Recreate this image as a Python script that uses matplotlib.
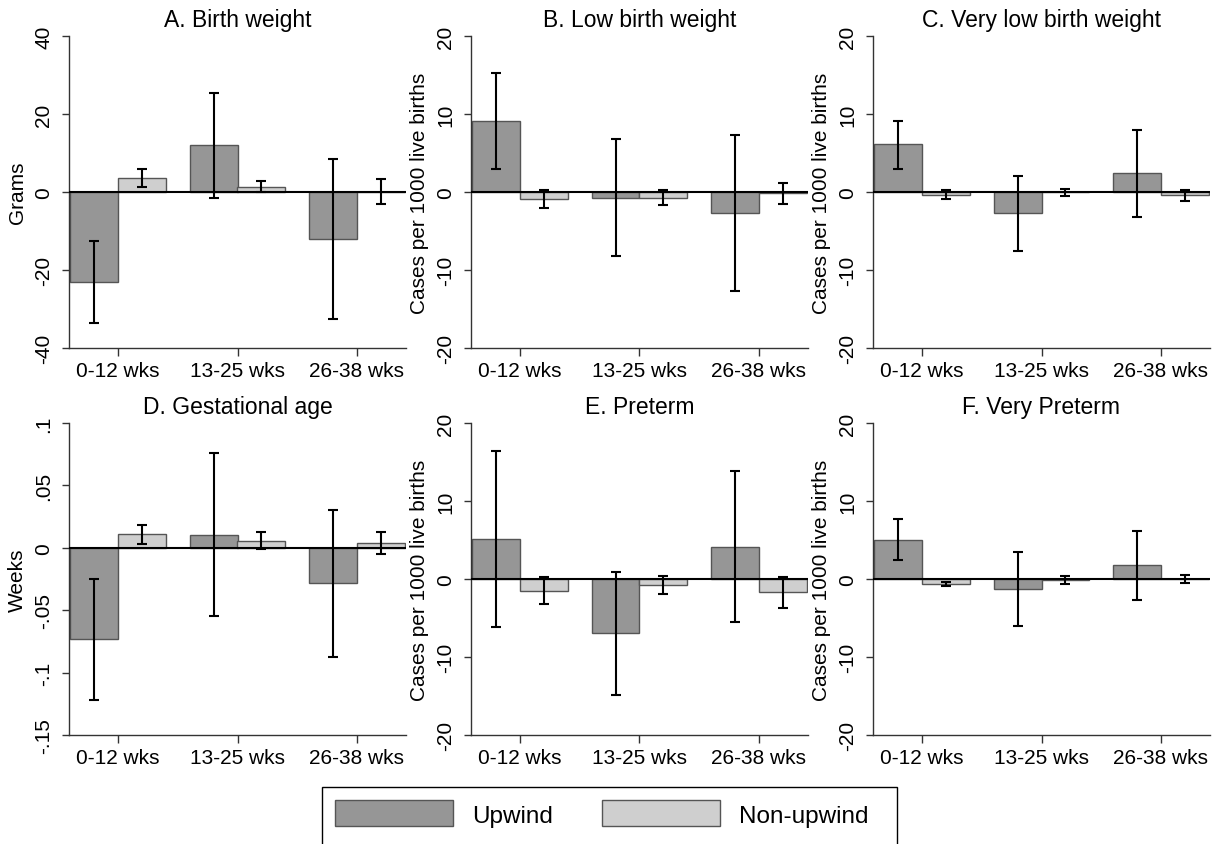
import numpy as np
import matplotlib
matplotlib.use("Agg")
import matplotlib.pyplot as plt
from matplotlib.patches import Patch, Rectangle

plt.rcParams["font.family"] = ["Liberation Sans", "DejaVu Sans"]

periods = ["0-12 wks", "13-25 wks", "26-38 wks"]
titles = ["A. Birth weight", "B. Low birth weight", "C. Very low birth weight",
          "D. Gestational age", "E. Preterm", "F. Very Preterm"]
ylabels = ["Grams", "Cases per 1000 live births", "Cases per 1000 live births",
           "Weeks", "Cases per 1000 live births", "Cases per 1000 live births"]

# point estimates and 95% CI bounds, one row per panel (A-F)
upwind_est = [[-23.2, 12.0, -12.0],
              [9.06, -0.73, -2.66],
              [6.1, -2.7, 2.4],
              [-0.0731, 0.0105, -0.0281],
              [5.19, -6.95, 4.12],
              [5.06, -1.24, 1.8]]
upwind_lo = [[-33.6, -1.5, -32.6],
             [2.9, -8.2, -12.7],
             [3.0, -7.5, -3.2],
             [-0.122, -0.0544, -0.0871],
             [-6.1, -14.9, -5.5],
             [2.45, -6.0, -2.66]]
upwind_hi = [[-12.6, 25.3, 8.4],
             [15.2, 6.8, 7.3],
             [9.1, 2.0, 7.9],
             [-0.0249, 0.0758, 0.0303],
             [16.4, 0.9, 13.8],
             [7.7, 3.5, 6.2]]

nonup_est = [[3.6, 1.4, 0.1],
             [-0.86, -0.73, -0.17],
             [-0.39, -0.05, -0.43],
             [0.0107, 0.0054, 0.0038],
             [-1.5, -0.77, -1.72],
             [-0.6, -0.17, 0.0]]
nonup_lo = [[1.3, 0.0, -3.0],
            [-2.0, -1.7, -1.6],
            [-0.95, -0.5, -1.2],
            [0.0032, -0.0013, -0.0048],
            [-3.2, -1.9, -3.7],
            [-0.86, -0.64, -0.5]]
nonup_hi = [[6.0, 2.8, 3.3],
            [0.26, 0.26, 1.16],
            [0.2, 0.43, 0.3],
            [0.0182, 0.0123, 0.0126],
            [0.2, 0.39, 0.26],
            [-0.34, 0.39, 0.56]]

yticks = [[-40, -20, 0, 20, 40],
          [-20, -10, 0, 10, 20],
          [-20, -10, 0, 10, 20],
          [-0.15, -0.1, -0.05, 0, 0.05, 0.1],
          [-20, -10, 0, 10, 20],
          [-20, -10, 0, 10, 20]]
ytick_labels = [["-40", "-20", "0", "20", "40"],
                ["-20", "-10", "0", "10", "20"],
                ["-20", "-10", "0", "10", "20"],
                ["-.15", "-.1", "-.05", "0", ".05", ".1"],
                ["-20", "-10", "0", "10", "20"],
                ["-20", "-10", "0", "10", "20"]]

UP_COLOR = "#969696"
NON_COLOR = "#cfcfcf"
EDGE = "#555555"
SPINE = "#333333"

W, H = 1213, 845
fig = plt.figure(figsize=(W / 100, H / 100), dpi=100)

col_left = [69, 471, 873]
row_top = [37, 424]
ax_w, ax_h = 337, 312

x = np.arange(len(periods))
bw = 0.4

for i in range(6):
    r, c = divmod(i, 3)
    ax = fig.add_axes([col_left[c] / W, 1 - (row_top[r] + ax_h) / H, ax_w / W, ax_h / H])

    up = np.array(upwind_est[i])
    nu = np.array(nonup_est[i])
    up_err = [up - np.array(upwind_lo[i]), np.array(upwind_hi[i]) - up]
    nu_err = [nu - np.array(nonup_lo[i]), np.array(nonup_hi[i]) - nu]

    ax.bar(x - bw / 2, up, bw, color=UP_COLOR, edgecolor=EDGE, linewidth=1, zorder=2)
    ax.bar(x + bw / 2, nu, bw, color=NON_COLOR, edgecolor=EDGE, linewidth=1, zorder=2)
    ax.axhline(0, color="black", linewidth=1.5, zorder=3)
    ax.errorbar(x - bw / 2, up, yerr=up_err, fmt="none", ecolor="black",
                elinewidth=1.5, capsize=3.6, capthick=1.5, zorder=4)
    ax.errorbar(x + bw / 2, nu, yerr=nu_err, fmt="none", ecolor="black",
                elinewidth=1.5, capsize=3.6, capthick=1.5, zorder=4)

    ax.set_xlim(-0.4125, 2.4125)
    ax.set_ylim(yticks[i][0], yticks[i][-1])
    ax.set_xticks(x)
    ax.set_xticklabels(periods, fontsize=15)
    ax.set_yticks(yticks[i])
    ax.set_yticklabels(ytick_labels[i], fontsize=15, rotation=90, va="center")

    for s in ["top", "right"]:
        ax.spines[s].set_visible(False)
    for s in ["left", "bottom"]:
        ax.spines[s].set_color(SPINE)
        ax.spines[s].set_linewidth(1)
    ax.tick_params(length=5.4, width=1, color=SPINE, pad=4)
    ax.tick_params(axis="y", pad=6)

    ax.set_title(titles[i], fontsize=16.5, pad=7)
    ax.set_ylabel(ylabels[i], fontsize=15, labelpad=5)

# legend box runs off the bottom edge, as in the original
fig.patches.append(Rectangle((322 / W, -10 / H), 575 / W, (855 - 788) / H,
                             transform=fig.transFigure, facecolor="none",
                             edgecolor="black", linewidth=1))

handles = [Patch(facecolor=UP_COLOR, edgecolor=EDGE, linewidth=1, label="Upwind"),
           Patch(facecolor=NON_COLOR, edgecolor=EDGE, linewidth=1, label="Non-upwind")]
leg = fig.legend(handles=handles, loc="upper left", bbox_to_anchor=(322 / W, 1 - 788 / H),
                 ncol=2, fontsize=17.5, frameon=False,
                 handlelength=4.86, handleheight=1.27, handletextpad=0.77,
                 columnspacing=2.0, borderpad=0.55, borderaxespad=0)

fig.savefig("out.png", dpi=100)
